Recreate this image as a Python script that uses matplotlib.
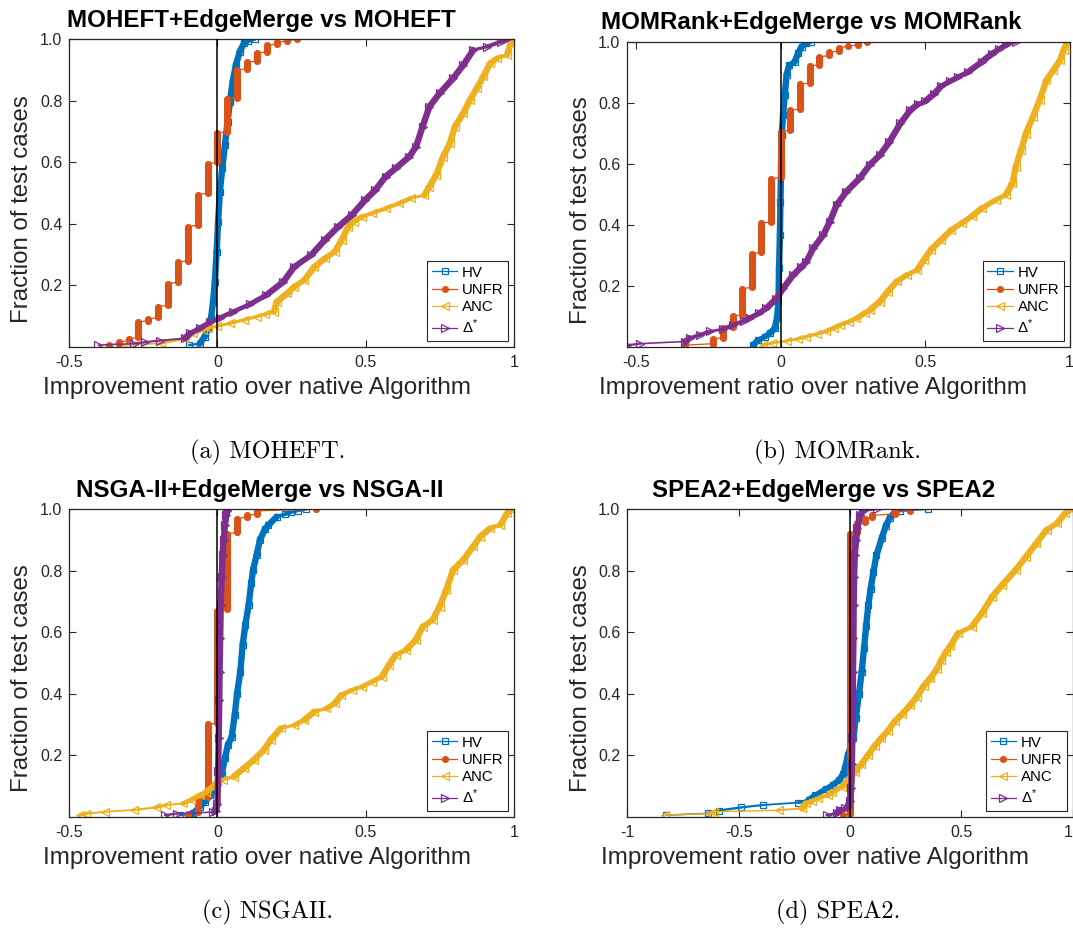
import numpy as np
import matplotlib
matplotlib.use('Agg')
import matplotlib.pyplot as plt
from matplotlib.collections import LineCollection
from matplotlib.lines import Line2D

plt.rcParams['font.family'] = ['Liberation Sans', 'DejaVu Sans']
plt.rcParams['mathtext.fontset'] = 'custom'
plt.rcParams['mathtext.rm'] = 'Liberation Sans'
plt.rcParams['mathtext.it'] = 'Liberation Sans:italic'

# number of test cases behind every curve
N_CASES = 200

series_names = ['HV', 'UNFR', 'ANC', 'Δ$^{*}$']

# each curve: sorted improvement ratios and the fraction of cases <= that ratio
# (a) MOHEFT
hv_a_x = [-0.096, -0.06, -0.043, -0.031, -0.022, -0.015, -0.009, -0.003, 0.002, 0.008,
          0.016, 0.025, 0.034, 0.042, 0.051, 0.062, 0.075, 0.089, 0.103, 0.126]
hv_a_f = [0.005, 0.01, 0.033, 0.06, 0.092, 0.146, 0.211, 0.309, 0.407, 0.504,
          0.58, 0.656, 0.732, 0.797, 0.862, 0.916, 0.96, 0.987, 0.995, 1.0]
unfr_a_x = [-0.367, -0.333, -0.3, -0.267, -0.233, -0.2, -0.167, -0.133, -0.1, -0.067,
            -0.033, 0.0, 0.033, 0.067, 0.1, 0.133, 0.167, 0.2, 0.233, 0.267]
unfr_a_f = [0.005, 0.015, 0.025, 0.08, 0.092, 0.13, 0.206, 0.277, 0.39, 0.496,
            0.593, 0.694, 0.803, 0.9, 0.927, 0.954, 0.98, 0.99, 0.995, 1.0]
anc_a_x = [-0.306, -0.192, -0.112, -0.083, -0.049, -0.031, 0.0, 0.042, 0.088, 0.132,
           0.16, 0.19, 0.2, 0.236, 0.259, 0.293, 0.327, 0.362, 0.396, 0.419,
           0.441, 0.459, 0.487, 0.521, 0.567, 0.612, 0.652, 0.698, 0.715, 0.738,
           0.761, 0.784, 0.801, 0.829, 0.852, 0.875, 0.897, 0.92, 0.943, 0.977,
           0.989, 0.998]
anc_a_f = [0.005, 0.011, 0.027, 0.043, 0.054, 0.06, 0.067, 0.076, 0.087, 0.098,
           0.105, 0.114, 0.146, 0.174, 0.195, 0.217, 0.26, 0.287, 0.309, 0.347,
           0.39, 0.407, 0.423, 0.434, 0.45, 0.466, 0.483, 0.493, 0.521, 0.559,
           0.618, 0.662, 0.716, 0.759, 0.803, 0.841, 0.879, 0.922, 0.938, 0.949,
           0.987, 1.0]
delta_a_x = [-0.403, -0.283, -0.243, -0.195, -0.11, -0.093, -0.06, -0.026, 0.008, 0.053,
             0.109, 0.165, 0.222, 0.259, 0.316, 0.362, 0.407, 0.453, 0.498, 0.533,
             0.567, 0.601, 0.647, 0.67, 0.692, 0.715, 0.749, 0.795, 0.829, 0.863,
             0.909, 0.955, 0.978]
delta_a_f = [0.005, 0.01, 0.015, 0.02, 0.027, 0.043, 0.06, 0.079, 0.094, 0.114,
             0.138, 0.168, 0.211, 0.26, 0.298, 0.347, 0.39, 0.428, 0.477, 0.51,
             0.553, 0.58, 0.618, 0.651, 0.716, 0.781, 0.824, 0.873, 0.916, 0.965,
             0.976, 0.992, 1.0]

# (b) MOMRank
hv_b_x = [-0.096, -0.078, -0.055, -0.038, -0.021, -0.013, -0.008, -0.006, -0.003, -0.001,
          0.001, 0.003, 0.008, 0.014, 0.02, 0.029, 0.048, 0.06, 0.072, 0.089, 0.106]
hv_b_f = [0.005, 0.022, 0.033, 0.044, 0.06, 0.093, 0.148, 0.257, 0.366, 0.475,
          0.585, 0.694, 0.76, 0.825, 0.891, 0.923, 0.934, 0.962, 0.984, 0.995, 1.0]
unfr_b_x = [-0.333, -0.233, -0.2, -0.167, -0.133, -0.1, -0.067, -0.033, 0.0, 0.033,
            0.067, 0.1, 0.133, 0.167, 0.2, 0.233, 0.267, 0.3]
unfr_b_f = [0.005, 0.025, 0.06, 0.098, 0.191, 0.306, 0.404, 0.552, 0.705, 0.776,
            0.858, 0.918, 0.948, 0.967, 0.978, 0.986, 0.993, 1.0]
anc_b_x = [-0.061, -0.03, 0.02, 0.06, 0.089, 0.125, 0.158, 0.185, 0.204, 0.235,
           0.262, 0.29, 0.308, 0.343, 0.37, 0.402, 0.438, 0.473, 0.496, 0.52,
           0.555, 0.591, 0.626, 0.661, 0.696, 0.744, 0.779, 0.802, 0.814, 0.832,
           0.849, 0.873, 0.896, 0.92, 0.944, 0.967, 0.979, 0.993]
anc_b_f = [0.005, 0.012, 0.019, 0.026, 0.033, 0.042, 0.051, 0.062, 0.071, 0.082,
           0.093, 0.11, 0.12, 0.148, 0.18, 0.214, 0.236, 0.252, 0.285, 0.318,
           0.35, 0.383, 0.405, 0.427, 0.454, 0.481, 0.498, 0.536, 0.59, 0.645,
           0.699, 0.754, 0.808, 0.874, 0.907, 0.939, 0.972, 1.0]
delta_b_x = [-0.531, -0.486, -0.333, -0.315, -0.28, -0.245, -0.2, -0.165, -0.127, -0.107,
             -0.075, -0.05, -0.015, 0.008, 0.043, 0.07, 0.089, 0.112, 0.147, 0.17,
             0.193, 0.227, 0.273, 0.308, 0.343, 0.375, 0.414, 0.449, 0.475, 0.5,
             0.532, 0.555, 0.585, 0.614, 0.649, 0.696, 0.732, 0.755, 0.779, 0.814]
delta_b_f = [0.005, 0.01, 0.017, 0.028, 0.039, 0.05, 0.058, 0.071, 0.085, 0.095,
             0.11, 0.126, 0.158, 0.191, 0.235, 0.26, 0.279, 0.322, 0.366, 0.41,
             0.464, 0.508, 0.552, 0.596, 0.628, 0.67, 0.732, 0.776, 0.795, 0.805,
             0.83, 0.854, 0.87, 0.885, 0.901, 0.934, 0.961, 0.975, 0.989, 1.0]

# (c) NSGAII
hv_c_x = [-0.127, -0.082, -0.059, -0.042, -0.025, -0.008, 0.014, 0.025, 0.035, 0.048,
          0.058, 0.066, 0.077, 0.085, 0.094, 0.105, 0.114, 0.12, 0.132, 0.143,
          0.16, 0.172, 0.2, 0.228, 0.247, 0.27, 0.299]
hv_c_f = [0.005, 0.011, 0.033, 0.049, 0.07, 0.092, 0.136, 0.19, 0.233, 0.26,
          0.33, 0.4, 0.472, 0.56, 0.624, 0.689, 0.76, 0.803, 0.851, 0.9,
          0.935, 0.949, 0.976, 0.984, 0.99, 0.995, 1.0]
unfr_c_x = [-0.1, -0.067, -0.033, 0.0, 0.033, 0.067, 0.1, 0.133, 0.333]
unfr_c_f = [0.01, 0.06, 0.298, 0.672, 0.922, 0.971, 0.982, 0.993, 1.0]
anc_c_x = [-0.465, -0.442, -0.38, -0.283, -0.209, -0.174, -0.117, -0.089, -0.06, -0.038,
           -0.015, 0.0, 0.019, 0.054, 0.088, 0.122, 0.156, 0.179, 0.213, 0.259,
           0.293, 0.327, 0.367, 0.396, 0.418, 0.453, 0.487, 0.521, 0.555, 0.578,
           0.601, 0.635, 0.669, 0.692, 0.726, 0.749, 0.772, 0.795, 0.829, 0.863,
           0.886, 0.92, 0.954, 0.977, 0.994]
anc_c_f = [0.005, 0.01, 0.016, 0.022, 0.03, 0.038, 0.043, 0.054, 0.07, 0.081,
           0.098, 0.114, 0.121, 0.13, 0.157, 0.184, 0.217, 0.249, 0.287, 0.298,
           0.315, 0.342, 0.352, 0.369, 0.396, 0.412, 0.423, 0.439, 0.456, 0.493,
           0.526, 0.542, 0.575, 0.618, 0.64, 0.683, 0.738, 0.803, 0.835, 0.879,
           0.911, 0.938, 0.949, 0.987, 1.0]
delta_c_x = [-0.177, -0.138, -0.014, -0.005, 0.0, 0.002, 0.004, 0.006, 0.007, 0.009,
             0.011, 0.014, 0.017, 0.021, 0.025, 0.03, 0.033, 0.036]
delta_c_f = [0.005, 0.01, 0.015, 0.02, 0.04, 0.15, 0.255, 0.38, 0.472, 0.58,
             0.689, 0.78, 0.851, 0.9, 0.949, 0.98, 0.995, 1.0]

# (d) SPEA2
hv_d_x = [-0.827, -0.636, -0.59, -0.491, -0.392, -0.232, -0.186, -0.156, -0.11, -0.079,
          -0.049, -0.03, -0.022, -0.01, 0.015, 0.025, 0.04, 0.052, 0.063, 0.072,
          0.082, 0.092, 0.105, 0.118, 0.142, 0.16, 0.177, 0.202, 0.224, 0.352]
hv_d_f = [0.005, 0.011, 0.02, 0.03, 0.038, 0.046, 0.054, 0.07, 0.09, 0.103,
          0.119, 0.14, 0.16, 0.2, 0.255, 0.32, 0.4, 0.472, 0.55, 0.62,
          0.689, 0.74, 0.797, 0.85, 0.906, 0.945, 0.971, 0.992, 0.995, 1.0]
unfr_d_x = [-0.033, 0.0, 0.033, 0.067, 0.1, 0.2, 0.267]
unfr_d_f = [0.005, 0.922, 0.955, 0.968, 0.982, 0.992, 1.0]
anc_d_x = [-0.83, -0.63, -0.61, -0.32, -0.217, -0.2, -0.17, -0.142, -0.1, -0.08,
           -0.037, 0.0, 0.022, 0.05, 0.08, 0.11, 0.14, 0.17, 0.2, 0.235,
           0.27, 0.3, 0.33, 0.36, 0.39, 0.41, 0.43, 0.45, 0.485, 0.546,
           0.592, 0.638, 0.683, 0.744, 0.79, 0.836, 0.882, 0.928, 0.966, 0.996]
anc_d_f = [0.005, 0.01, 0.016, 0.021, 0.027, 0.043, 0.052, 0.06, 0.07, 0.08,
           0.098, 0.125, 0.146, 0.17, 0.2, 0.23, 0.255, 0.28, 0.31, 0.335,
           0.363, 0.39, 0.425, 0.45, 0.48, 0.51, 0.535, 0.555, 0.597, 0.618,
           0.662, 0.716, 0.754, 0.803, 0.846, 0.889, 0.933, 0.954, 0.987, 1.0]
delta_d_x = [-0.105, -0.06, -0.045, -0.022, -0.007, 0.0, 0.005, 0.008, 0.01, 0.012,
             0.013, 0.015, 0.016, 0.018, 0.021, 0.027, 0.033, 0.045, 0.06, 0.12]
delta_d_f = [0.005, 0.011, 0.022, 0.027, 0.033, 0.05, 0.092, 0.17, 0.255, 0.37,
             0.472, 0.58, 0.689, 0.78, 0.851, 0.9, 0.938, 0.982, 0.995, 1.0]

panels = [
    dict(title='MOHEFT+EdgeMerge vs MOHEFT', caption='(a) MOHEFT.',
         rect=[69.3, 39.3, 513.9, 346.7], xlim=(-0.5, 1),
         xticks=[-0.5, 0, 0.5, 1], xlabels=['-0.5', '0', '0.5', '1'],
         title_xy=(261, 21), ylab_xy=(22, 209), xlab_xy=(257, 388), cap_xy=(268, 452),
         data=[(hv_a_x, hv_a_f), (unfr_a_x, unfr_a_f), (anc_a_x, anc_a_f), (delta_a_x, delta_a_f)]),
    dict(title='MOMRank+EdgeMerge vs MOMRank', caption='(b) MOMRank.',
         rect=[627.4, 41.7, 1069.6, 346.7], xlim=(-0.531, 1),
         xticks=[-0.5, 0, 0.5, 1], xlabels=['-0.5', '0', '0.5', '1'],
         title_xy=(811, 22), ylab_xy=(581, 210), xlab_xy=(813, 388), cap_xy=(838, 452),
         data=[(hv_b_x, hv_b_f), (unfr_b_x, unfr_b_f), (anc_b_x, anc_b_f), (delta_b_x, delta_b_f)]),
    dict(title='NSGA-II+EdgeMerge vs NSGA-II', caption='(c) NSGAII.',
         rect=[69.3, 509.3, 513.9, 816.7], xlim=(-0.5, 1),
         xticks=[-0.5, 0, 0.5, 1], xlabels=['-0.5', '0', '0.5', '1'],
         title_xy=(260, 491), ylab_xy=(22, 678), xlab_xy=(257, 858), cap_xy=(268, 912),
         data=[(hv_c_x, hv_c_f), (unfr_c_x, unfr_c_f), (anc_c_x, anc_c_f), (delta_c_x, delta_c_f)]),
    dict(title='SPEA2+EdgeMerge vs SPEA2', caption='(d) SPEA2.',
         rect=[627.4, 509.3, 1072.8, 816.7], xlim=(-1, 1),
         xticks=[-1, -0.5, 0, 0.5, 1], xlabels=['-1', '-0.5', '0', '0.5', '1'],
         title_xy=(824, 491), ylab_xy=(581, 678), xlab_xy=(815, 858), cap_xy=(838, 912),
         data=[(hv_d_x, hv_d_f), (unfr_d_x, unfr_d_f), (anc_d_x, anc_d_f), (delta_d_x, delta_d_f)]),
]

colors = ['#0072BD', '#D95319', '#EDB120', '#7E2F8E']
markers = [dict(marker='s', ms=4.2, mfc='none', mew=0.9),
           dict(marker='o', ms=4.5, mew=0.6),
           dict(marker='<', ms=5.2, mfc='none', mew=0.9),
           dict(marker='>', ms=5.2, mfc='none', mew=0.9)]

W, H = 1073, 935
AX_COLOR = '#262626'


def ecdf(x, frac):
    # one point per test case, tied cases share the same ratio
    counts = np.diff(np.round(np.asarray(frac) * N_CASES).astype(int), prepend=0)
    xs = np.repeat(np.asarray(x), counts)
    ys = np.arange(1, xs.size + 1) / N_CASES
    return xs, ys


def banded_line(ax, x, f, color, w_px, h_px, xspan):
    # segments crowded with many cases get drawn heavier, like stacked markers
    x = np.asarray(x, float)
    f = np.asarray(f, float)
    seg_len = np.hypot(np.diff(x) / xspan * w_px, np.diff(f) * h_px)
    dens = np.diff(f) * N_CASES / np.maximum(seg_len, 0.5)
    lw = np.clip(0.9 + 9 * dens, 0.9, 4.6)
    pts = np.column_stack([x, f])
    segs = np.stack([pts[:-1], pts[1:]], axis=1)
    ax.add_collection(LineCollection(segs, colors=color, linewidths=lw, capstyle='round'))


fig = plt.figure(figsize=(W / 100, H / 100), dpi=100)
fig.patch.set_facecolor('white')

for p in panels:
    l, t, r, b = p['rect']
    ax = fig.add_axes([l / W, 1 - b / H, (r - l) / W, (b - t) / H])
    xspan = p['xlim'][1] - p['xlim'][0]
    handles = []
    for (x, f), name, c, mk in zip(p['data'], series_names, colors, markers):
        if name == 'UNFR':
            xs, ys = ecdf(x, f)
            ax.plot(xs, ys, color=c, lw=0.9, mec=c, **mk)
        else:
            banded_line(ax, x, f, c, r - l, b - t, xspan)
            ax.plot(x, f, color=c, lw=0, mec=c, **mk)
        handles.append(Line2D([], [], color=c, lw=0.9, mec=c, label=name, **mk))
    ax.axvline(0, color='black', lw=1.1, zorder=5)

    ax.set_xlim(*p['xlim'])
    ax.set_ylim(0, 1)
    ax.set_xticks(p['xticks'])
    ax.set_xticklabels(p['xlabels'])
    ax.set_yticks([0.2, 0.4, 0.6, 0.8, 1.0])
    ax.set_yticklabels(['0.2', '0.4', '0.6', '0.8', '1.0'])
    ax.tick_params(direction='in', top=True, right=True, length=5, width=0.8,
                   colors=AX_COLOR, labelsize=11.5)
    ax.tick_params(axis='x', pad=6)
    ax.tick_params(axis='y', pad=5)
    if xspan == 2:
        ax.get_xticklabels()[-1].set_ha('right')
    for s in ax.spines.values():
        s.set_color(AX_COLOR)
        s.set_linewidth(0.9)

    leg = ax.legend(handles=handles, loc='lower right', fontsize=10.8, numpoints=1,
                    handlelength=1.7, handletextpad=0.3, labelspacing=0.22,
                    borderpad=0.3, borderaxespad=0.4, fancybox=False, framealpha=1)
    leg.get_frame().set_edgecolor(AX_COLOR)
    leg.get_frame().set_linewidth(0.8)
    leg.set_zorder(6)

    tx, ty = p['title_xy']
    fig.text(tx / W, 1 - ty / H, p['title'], ha='center', va='center',
             fontsize=17.4, fontweight='bold')
    yx, yy = p['ylab_xy']
    fig.text(yx / W, 1 - yy / H, 'Fraction of test cases', ha='center', va='center',
             rotation=90, fontsize=17.3, color=AX_COLOR)
    xx, xy = p['xlab_xy']
    fig.text(xx / W, 1 - xy / H, 'Improvement ratio over native Algorithm',
             ha='center', va='center', fontsize=17.5, color=AX_COLOR)
    cx, cy = p['cap_xy']
    fig.text(cx / W, 1 - cy / H, p['caption'], ha='center', va='center',
             fontsize=17.5, family='cmr10')

fig.savefig('out.png', dpi=100, facecolor='white')
